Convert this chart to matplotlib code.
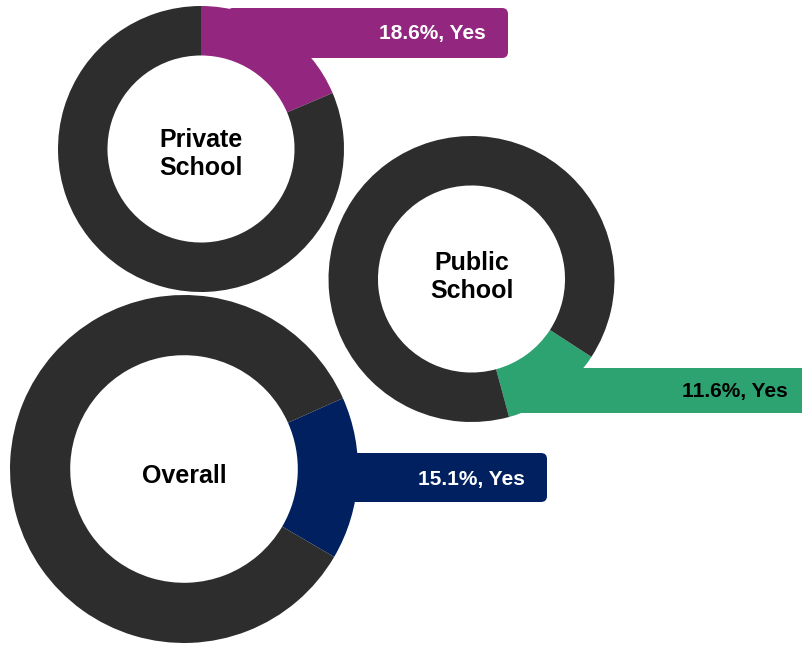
import matplotlib.pyplot as plt
from matplotlib.patches import FancyBboxPatch

plt.rcParams['font.family'] = ['Liberation Sans', 'DejaVu Sans']

# share of "Yes" answers per group
groups = ["Private\nSchool", "Public\nSchool", "Overall"]
yes_share = [18.6, 11.6, 15.1]
answer = "Yes"

# layout in pixel units (y measured from the top of the canvas)
W, H = 803, 645
centers = [(201, 149), (471.5, 279), (184, 469)]
radii = [143, 143, 174]
hole = 0.654
start_angles = [90, -33, 24]
# callout bar for each highlighted slice: x0, x1, top, bottom
callouts = [(227, 508, 8, 58), (510, 830, 368, 413), (300, 547, 453, 502)]
label_x = [486, 788, 525]
label_y = [34, 392, 479]
name_y = [154, 277, 476]

dark = '#2d2d2d'
colors = ['#93267f', '#2ea372', '#002060']
text_colors = ['white', 'black', 'white']

fig = plt.figure(figsize=(W / 100, H / 100), dpi=100)
ax = fig.add_axes([0, 0, 1, 1])

for i in range(len(groups)):
    cx, cy = centers[i]
    cy = H - cy
    v = yes_share[i]
    ax.pie([v, 100 - v], colors=[colors[i], dark], radius=radii[i],
           center=(cx, cy), startangle=start_angles[i], counterclock=False,
           wedgeprops=dict(width=radii[i] * (1 - hole), edgecolor='none', linewidth=0),
           frame=True)
    ax.text(cx, H - name_y[i], groups[i], ha='center', va='center', fontsize=18,
            fontweight='bold', color='black', linespacing=1.25, zorder=5)

    # label bar growing out of the slice
    x0, x1, top, bottom = callouts[i]
    box = FancyBboxPatch((x0, H - bottom), x1 - x0, bottom - top,
                         boxstyle="round,pad=0,rounding_size=6",
                         facecolor=colors[i], edgecolor='none', zorder=0)
    ax.add_patch(box)
    ax.text(label_x[i], H - label_y[i], f"{v}%, {answer}", ha='right', va='center',
            fontsize=15, fontweight='bold', color=text_colors[i], zorder=5)

ax.set_xlim(0, W)
ax.set_ylim(0, H)
ax.set_aspect('equal')
ax.axis('off')

fig.savefig('out.png', dpi=100)
